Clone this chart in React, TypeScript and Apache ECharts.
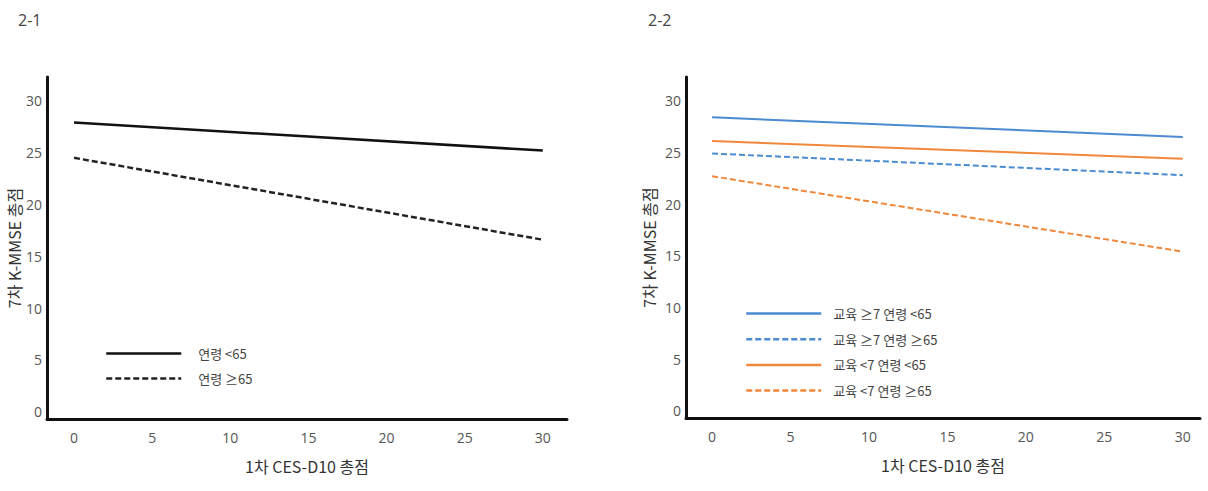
import React, { useEffect, useRef } from "react";
import * as echarts from "echarts";

// CES-D10 score at the two ends of each fitted line
const xEnds = [0, 30];
const xTicks = [0, 5, 10, 15, 20, 25, 30];
const yTicks = [0, 5, 10, 15, 20, 25, 30];

// 2-1: by age group
const ageYoung = [27.9, 25.2];
const ageOld = [24.5, 16.6];

// 2-2: by education and age group
const eduHiYoung = [28.4, 26.5];
const eduHiOld = [24.9, 22.8];
const eduLoYoung = [26.1, 24.4];
const eduLoOld = [22.7, 15.4];

const panelTitles = ["2-1", "2-2"];
const xName = "1차 CES-D10 총점";
const yName = "7차 K-MMSE 총점";

const names21 = ["연령 <65", "연령 ≥65"];
const names22 = ["교육 ≥7 연령 <65", "교육 ≥7 연령 ≥65", "교육 <7 연령 <65", "교육 <7 연령 ≥65"];

const BLUE = "#4A8BD2";
const ORANGE = "#F0883C";
const KFONT = "'Noto Sans CJK KR', 'Noto Sans', sans-serif";
const NFONT = "'Open Sans', 'Noto Sans', sans-serif";

const pts = (ys: number[]) => xEnds.map((x, i) => [x, ys[i]]);

function xAxis(gridIndex: number, min: number, max: number) {
  return {
    type: "value",
    gridIndex,
    min,
    max,
    name: xName,
    nameLocation: "middle",
    nameGap: 39,
    nameTextStyle: { fontFamily: KFONT, fontSize: 16, color: "#333" },
    axisLine: { show: true, onZero: false, lineStyle: { color: "#111", width: 3 } },
    axisTick: { show: false },
    splitLine: { show: false },
    axisLabel: {
      customValues: xTicks,
      margin: 11,
      fontFamily: NFONT,
      fontSize: 14,
      color: "#555",
    },
  };
}

function yAxis(gridIndex: number, nameGap: number) {
  return {
    type: "value",
    gridIndex,
    min: -0.7,
    max: 32.3,
    name: yName,
    nameLocation: "middle",
    nameRotate: 90,
    nameGap,
    nameTextStyle: { fontFamily: KFONT, fontSize: 16, color: "#333" },
    axisLine: { show: true, onZero: false, lineStyle: { color: "#111", width: 3 } },
    axisTick: { show: false },
    splitLine: { show: false },
    axisLabel: {
      customValues: yTicks,
      margin: 5,
      fontFamily: NFONT,
      fontSize: 14,
      color: "#555",
    },
  };
}

function line(name: string, ys: number[], idx: number, color: string, dashed: boolean, width: number) {
  return {
    type: "line",
    name,
    xAxisIndex: idx,
    yAxisIndex: idx,
    data: pts(ys),
    symbol: "none",
    lineStyle: { color, width, type: dashed ? [6, 3] : "solid" },
    itemStyle: { color },
  };
}

const legendBase = {
  orient: "vertical",
  itemWidth: 75,
  itemHeight: 14,
  itemStyle: { color: "rgba(0,0,0,0)", borderWidth: 0 },
  lineStyle: { width: 2.5 },
};

export default function App() {
  const ref = useRef<HTMLDivElement>(null);

  useEffect(() => {
    if (!ref.current) return;
    const chart = echarts.init(ref.current, undefined, { renderer: "svg" });
    chart.setOption({
      animation: false,
      backgroundColor: "#fff",
      title: [
        { text: panelTitles[0], left: 13, top: 7, textStyle: { fontFamily: NFONT, fontSize: 16, fontWeight: "normal", color: "#444" } },
        { text: panelTitles[1], left: 643, top: 7, textStyle: { fontFamily: NFONT, fontSize: 16, fontWeight: "normal", color: "#444" } },
      ],
      grid: [
        { left: 47, top: 77, width: 520, height: 342 },
        { left: 686, top: 77, width: 514, height: 341 },
      ],
      xAxis: [xAxis(0, -1.73, 31.55), xAxis(1, -1.66, 31.1)],
      yAxis: [yAxis(0, 25), yAxis(1, 29)],
      legend: [
        {
          ...legendBase,
          data: names21,
          left: 100,
          top: 342,
          itemGap: 12,
          textStyle: { fontFamily: KFONT, fontSize: 13, color: "#444", padding: [0, 0, 0, 12] },
        },
        {
          ...legendBase,
          data: names22,
          left: 740,
          top: 302,
          itemGap: 12.7,
          textStyle: { fontFamily: KFONT, fontSize: 13, color: "#444", padding: [0, 0, 0, 7] },
        },
      ],
      series: [
        line(names21[0], ageYoung, 0, "#111", false, 2.5),
        line(names21[1], ageOld, 0, "#222", true, 2.5),
        line(names22[0], eduHiYoung, 1, BLUE, false, 2),
        line(names22[1], eduHiOld, 1, BLUE, true, 2),
        line(names22[2], eduLoYoung, 1, ORANGE, false, 2),
        line(names22[3], eduLoOld, 1, ORANGE, true, 2),
      ],
    });
    return () => chart.dispose();
  }, []);

  return (
    <div
      ref={ref}
      style={{ position: "fixed", left: 0, top: 0, width: 1208, height: 491, background: "#fff" }}
    />
  );
}
